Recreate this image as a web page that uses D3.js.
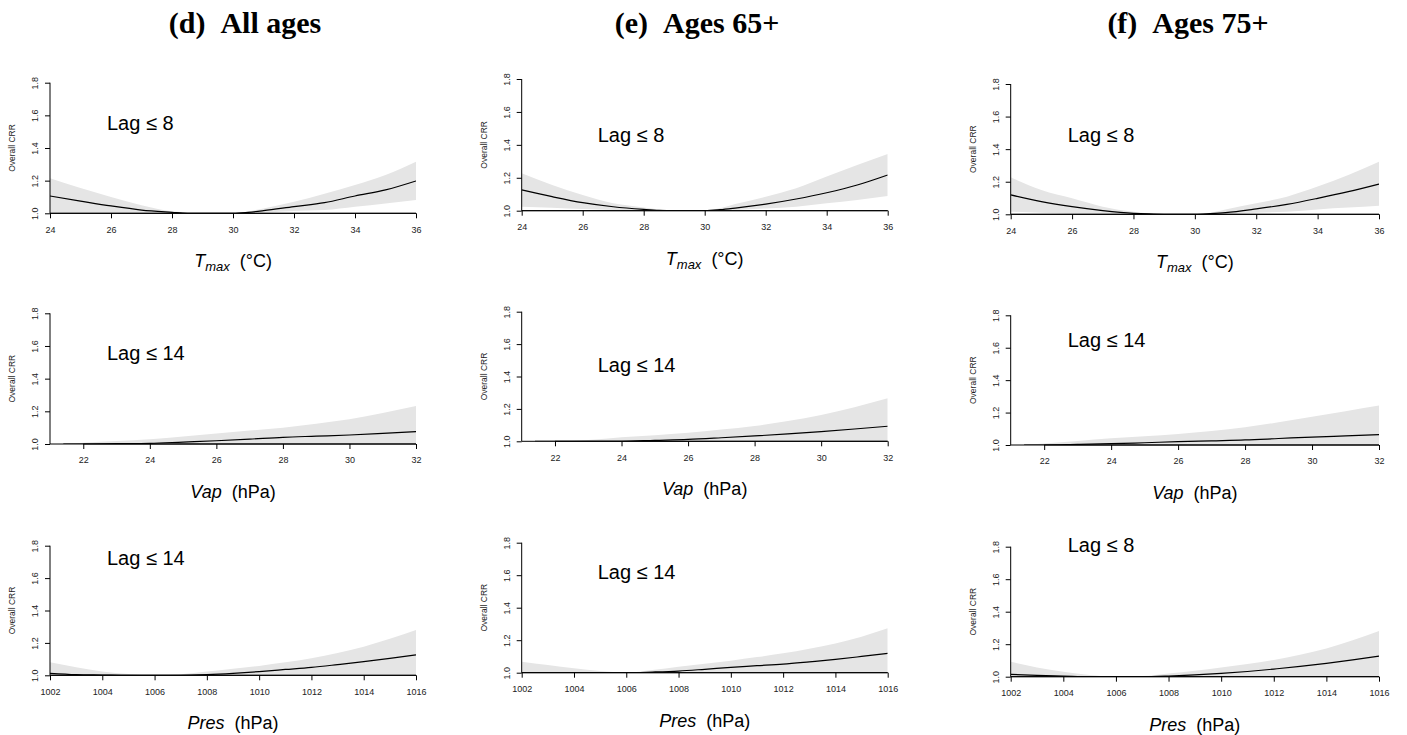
<!DOCTYPE html>
<html>
<head>
<meta charset="utf-8">
<script src="https://cdn.jsdelivr.net/npm/d3@7"></script>
<style>
  body { margin: 0; background: #fff; }
  text { font-family: "Liberation Sans", Arial, sans-serif; }
</style>
</head>
<body>
<script>
// panel titles (columns) and lag labels
const columnTitles = ["(d)\u00a0\u00a0All\u00a0ages", "(e)\u00a0\u00a0Ages 65+", "(f)\u00a0\u00a0Ages 75+"];
const lagLabels = [
  ["Lag \u2264 8", "Lag \u2264 14", "Lag \u2264 14"],
  ["Lag \u2264 8", "Lag \u2264 14", "Lag \u2264 14"],
  ["Lag \u2264 8", "Lag \u2264 14", "Lag \u2264 8"]
];
const yTicks = [1.0, 1.2, 1.4, 1.6, 1.8];

// Tmax row
const tmaxDomain = [24, 36];
const tmaxTicks = [24, 26, 28, 30, 32, 34, 36];
const tmaxX = [24, 25, 26, 27, 28, 28.5, 29, 30, 30.5, 31, 32, 33, 34, 35, 36];
const tmaxAllRR = [1.106, 1.075, 1.045, 1.02, 1.006, 1.0, 1.0, 1.0, 1.006, 1.016, 1.041, 1.065, 1.106, 1.143, 1.198];
const tmaxAllUp = [1.214, 1.155, 1.10, 1.05, 1.012, 1.004, 1.0, 1.0, 1.012, 1.03, 1.07, 1.12, 1.173, 1.235, 1.316];
const tmaxAllLo = [1.004, 1.002, 1.0, 1.0, 1.0, 1.0, 1.0, 1.0, 1.0, 1.004, 1.014, 1.02, 1.04, 1.06, 1.082];
const tmax65RR = [1.126, 1.085, 1.049, 1.024, 1.008, 1.002, 1.0, 1.0, 1.006, 1.016, 1.04, 1.071, 1.109, 1.156, 1.217];
const tmax65Up = [1.227, 1.156, 1.095, 1.045, 1.02, 1.008, 1.0, 1.0, 1.015, 1.04, 1.085, 1.136, 1.207, 1.277, 1.344];
const tmax65Lo = [1.024, 1.018, 1.01, 1.004, 1.0, 1.0, 1.0, 1.0, 1.0, 1.004, 1.014, 1.024, 1.045, 1.065, 1.089];
const tmax75RR = [1.119, 1.078, 1.047, 1.023, 1.006, 1.002, 1.0, 1.0, 1.004, 1.01, 1.033, 1.061, 1.098, 1.139, 1.186];
const tmax75Up = [1.227, 1.149, 1.098, 1.047, 1.016, 1.006, 1.0, 1.0, 1.01, 1.03, 1.068, 1.108, 1.17, 1.241, 1.323];
const tmax75Lo = [1.016, 1.01, 1.004, 1.0, 1.0, 1.0, 1.0, 1.0, 1.0, 1.002, 1.01, 1.016, 1.03, 1.041, 1.053];

// Vap row
const vapDomain = [21, 32];
const vapTicks = [22, 24, 26, 28, 30, 32];
const vapX = [21.4, 22, 23, 24, 25, 26, 27, 28, 29, 30, 31, 32];
const vapAllRR = [1.0, 1.0, 1.002, 1.004, 1.012, 1.02, 1.03, 1.041, 1.048, 1.055, 1.065, 1.076];
const vapAllUp = [1.0, 1.008, 1.018, 1.029, 1.046, 1.065, 1.082, 1.1, 1.124, 1.151, 1.19, 1.233];
const vap65RR = [1.0, 1.0, 1.0, 1.0, 1.006, 1.012, 1.022, 1.033, 1.046, 1.06, 1.076, 1.093];
const vap65Up = [1.0, 1.0, 1.008, 1.025, 1.038, 1.053, 1.073, 1.095, 1.126, 1.163, 1.21, 1.265];
const vap75RR = [1.0, 1.0, 1.004, 1.008, 1.014, 1.021, 1.026, 1.031, 1.04, 1.049, 1.056, 1.064];
const vap75Up = [1.0, 1.01, 1.025, 1.041, 1.054, 1.068, 1.087, 1.109, 1.14, 1.175, 1.208, 1.243];
const vapLo = [1.0, 1.0, 1.0, 1.0, 1.0, 1.0, 1.0, 1.0, 1.0, 1.0, 1.0, 1.0];

// Pres row
const presDomain = [1002, 1016];
const presTicks = [1002, 1004, 1006, 1008, 1010, 1012, 1014, 1016];
const presX = [1002, 1003, 1004, 1005, 1006, 1007, 1008, 1009, 1010, 1011, 1012, 1013, 1014, 1015, 1016];
const presAllRR = [1.012, 1.004, 1.002, 1.0, 1.0, 1.0, 1.004, 1.012, 1.023, 1.036, 1.049, 1.066, 1.084, 1.104, 1.126];
const presAllUp = [1.08, 1.049, 1.023, 1.008, 1.0, 1.006, 1.023, 1.04, 1.058, 1.08, 1.105, 1.138, 1.177, 1.225, 1.28];
const pres65RR = [1.0, 1.0, 1.0, 1.0, 1.0, 1.004, 1.01, 1.021, 1.033, 1.043, 1.053, 1.067, 1.082, 1.1, 1.119];
const pres65Up = [1.068, 1.047, 1.027, 1.01, 1.0, 1.016, 1.037, 1.055, 1.074, 1.096, 1.119, 1.147, 1.18, 1.222, 1.273];
const pres75RR = [1.014, 1.008, 1.004, 1.0, 1.0, 1.0, 1.004, 1.011, 1.02, 1.032, 1.047, 1.063, 1.082, 1.103, 1.127];
const pres75Up = [1.092, 1.057, 1.031, 1.01, 1.0, 1.004, 1.02, 1.037, 1.057, 1.078, 1.103, 1.135, 1.174, 1.224, 1.281];
const presLo = [1.0, 1.0, 1.0, 1.0, 1.0, 1.0, 1.0, 1.0, 1.0, 1.0, 1.0, 1.0, 1.0, 1.0, 1.0];

// row definitions: variable name, subscript, unit
const rows = [
  {name: "T", sub: "max", unit: "(\u00b0C)", domain: tmaxDomain, ticks: tmaxTicks, xs: tmaxX,
   series: [[tmaxAllRR, tmaxAllLo, tmaxAllUp], [tmax65RR, tmax65Lo, tmax65Up], [tmax75RR, tmax75Lo, tmax75Up]]},
  {name: "Vap", sub: "", unit: "(hPa)", domain: vapDomain, ticks: vapTicks, xs: vapX,
   series: [[vapAllRR, vapLo, vapAllUp], [vap65RR, vapLo, vap65Up], [vap75RR, vapLo, vap75Up]]},
  {name: "Pres", sub: "", unit: "(hPa)", domain: presDomain, ticks: presTicks, xs: presX,
   series: [[presAllRR, presLo, presAllUp], [pres65RR, presLo, pres65Up], [pres75RR, presLo, pres75Up]]}
];

// layout (pixels)
const W = 1407, H = 735;
const colLeft = [50, 521.7, 1010.7];
const colRight = [416, 887.7, 1379];
const titleX = [245, 697, 1188];
const plotBox = [ // [top(1.8), bottom(1.0)] per column, per row
  [[82.7, 213.3], [313.3, 444], [545.7, 675.3]],
  [[79, 210.7], [311.7, 441.3], [542.7, 672.7]],
  [[84, 214.3], [315.3, 445], [546.7, 676.7]]
];
const lagOffset = [ // [dx from left, dy from top] for the lag label centre line
  [[57, 40], [57, 40], [57, 12]],
  [[76, 56], [76, 53], [76, 29]],
  [[57, 51], [57, 25], [57, -2]]
];

const svg = d3.select("body").append("svg")
  .attr("width", W).attr("height", H);

// column titles
svg.selectAll(".coltitle")
  .data(columnTitles)
  .enter().append("text")
  .attr("class", "coltitle")
  .attr("x", (d, i) => titleX[i])
  .attr("y", 33)
  .attr("text-anchor", "middle")
  .style("font-family", "'Liberation Serif', 'Times New Roman', serif")
  .style("font-weight", "bold")
  .style("font-size", "30px")
  .text(d => d);

const defs = svg.append("defs");

columnTitles.forEach((t, c) => {
  rows.forEach((row, r) => {
    const [top, bottom] = plotBox[c][r];
    const left = colLeft[c], right = colRight[c];
    const x = d3.scaleLinear().domain(row.domain).range([left, right]);
    const y = d3.scaleLinear().domain([1, 1.8]).range([bottom, top]);
    const [rr, lo, up] = row.series[c];
    const pts = row.xs.map((v, i) => ({x: v, rr: rr[i], lo: lo[i], up: up[i]}));

    const clipId = `clip-${c}-${r}`;
    defs.append("clipPath").attr("id", clipId)
      .append("rect")
      .attr("x", left).attr("y", top)
      .attr("width", right - left).attr("height", bottom - top);

    const g = svg.append("g");
    const plot = g.append("g").attr("clip-path", `url(#${clipId})`);

    // confidence band
    const band = d3.area()
      .x(d => x(d.x))
      .y0(d => y(d.lo))
      .y1(d => y(d.up))
      .curve(d3.curveMonotoneX);
    plot.append("path")
      .datum(pts)
      .attr("d", band)
      .attr("fill", "#e5e5e5");

    // reference line at 1
    g.append("line")
      .attr("x1", left).attr("x2", right)
      .attr("y1", y(1)).attr("y2", y(1))
      .attr("stroke", "#000").attr("stroke-width", 1);

    // estimate
    const line = d3.line()
      .x(d => x(d.x))
      .y(d => y(d.rr))
      .curve(d3.curveMonotoneX);
    plot.append("path")
      .datum(pts)
      .attr("d", line)
      .attr("fill", "none")
      .attr("stroke", "#000")
      .attr("stroke-width", 1.2);

    // x axis (R style: line from first to last tick)
    const xAxis = g.append("g")
      .attr("transform", `translate(0,${bottom})`)
      .call(d3.axisBottom(x).tickValues(row.ticks).tickFormat(d3.format("d"))
        .tickSize(5).tickPadding(8).tickSizeOuter(0));
    xAxis.select(".domain").remove();
    xAxis.append("line")
      .attr("x1", x(row.ticks[0])).attr("x2", x(row.ticks[row.ticks.length - 1]))
      .attr("stroke", "#000");
    xAxis.selectAll(".tick text")
      .style("font-size", "9px").attr("fill", "#222");

    // y axis with rotated labels
    const yAxis = g.append("g")
      .attr("transform", `translate(${left},0)`)
      .call(d3.axisLeft(y).tickValues(yTicks).tickFormat(d3.format(".1f")).tickSize(5).tickSizeOuter(0));
    yAxis.select(".domain").remove();
    yAxis.append("line")
      .attr("y1", y(1)).attr("y2", y(1.8))
      .attr("stroke", "#000");
    yAxis.selectAll(".tick text")
      .attr("transform", "rotate(-90)")
      .attr("x", 0).attr("y", -12).attr("dy", 0)
      .attr("text-anchor", "middle")
      .style("font-size", "9px").attr("fill", "#222");

    // y label
    g.append("text")
      .attr("transform", `translate(${left - 35},${(top + bottom) / 2}) rotate(-90)`)
      .attr("text-anchor", "middle")
      .style("font-size", "8.5px")
      .attr("fill", "#222")
      .text("Overall CRR");

    // x title
    const xt = g.append("text")
      .attr("x", (left + right) / 2)
      .attr("y", bottom + 54)
      .attr("text-anchor", "middle")
      .style("font-size", "18px");
    xt.append("tspan").style("font-style", "italic").text(row.name);
    if (row.sub) {
      xt.append("tspan").style("font-style", "italic").style("font-size", "13px")
        .attr("dy", 4).text(row.sub);
      xt.append("tspan").attr("dy", -4).text("\u00a0\u00a0" + row.unit);
    } else {
      xt.append("tspan").text("\u00a0\u00a0" + row.unit);
    }

    // lag label
    g.append("text")
      .attr("x", left + lagOffset[c][r][0])
      .attr("y", top + lagOffset[c][r][1] + 7)
      .style("font-size", "20px")
      .attr("fill", "#000")
      .text(lagLabels[c][r]);
  });
});
</script>
</body>
</html>
